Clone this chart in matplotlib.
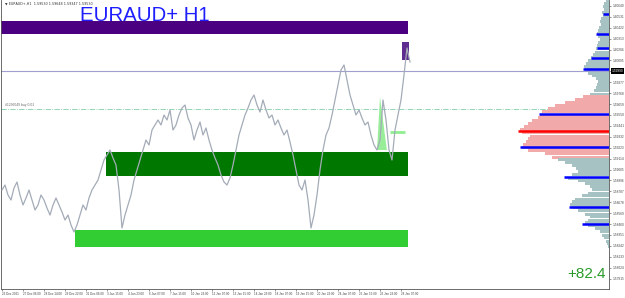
import numpy as np
import matplotlib
matplotlib.use("Agg")
import matplotlib.pyplot as plt
import matplotlib.transforms as mtransforms

plt.rcParams['font.family'] = ['Liberation Sans', 'DejaVu Sans']

# hourly closes (sampled), EURAUD+ H1
prices = [
    1.5880, 1.5885, 1.5875, 1.5870, 1.5882, 1.5888, 1.5875, 1.5865, 1.5872, 1.5880,
    1.5870, 1.5860, 1.5865, 1.5875, 1.5870, 1.5862, 1.5855, 1.5865, 1.5872, 1.5865,
    1.5858, 1.5850, 1.5855, 1.5845, 1.5838,
    1.5845, 1.5855, 1.5865, 1.5860, 1.5872, 1.5880, 1.5885, 1.5890, 1.5900, 1.5910,
    1.5915, 1.5920,
    1.5912, 1.5905, 1.5880, 1.5842, 1.5855, 1.5865, 1.5875,
    1.5890, 1.5900, 1.5910, 1.5920, 1.5930, 1.5925, 1.5940, 1.5945, 1.5950,
    1.5945, 1.5955, 1.5950, 1.5960, 1.5940, 1.5945, 1.5955, 1.5962, 1.5965, 1.5952,
    1.5945, 1.5930, 1.5940, 1.5948, 1.5935, 1.5942, 1.5930, 1.5920,
    1.5912, 1.5905, 1.5895, 1.5888, 1.5885, 1.5892, 1.5905, 1.5920,
    1.5935, 1.5945, 1.5955, 1.5962, 1.5970, 1.5975, 1.5965, 1.5958, 1.5970, 1.5960,
    1.5952, 1.5955, 1.5945, 1.5950, 1.5942, 1.5935, 1.5940, 1.5928,
    1.5915, 1.5900, 1.5885, 1.5880, 1.5890, 1.5870, 1.5842, 1.5855,
    1.5875, 1.5900, 1.5920, 1.5935, 1.5942, 1.5955, 1.5970, 1.5985, 1.6000, 1.6005,
    1.5990, 1.5975, 1.5965, 1.5955, 1.5960, 1.5952, 1.5945, 1.5948, 1.5935, 1.5925,
    1.5920, 1.5930,
    1.5970, 1.5950, 1.5920, 1.5910, 1.5940, 1.5955, 1.5970, 1.5995, 1.6022, 1.6008,
]

time_labels = ["23 Dec 2021", "27 Dec 06:00", "28 Dec 14:00", "29 Dec 22:00", "31 Dec 06:00",
               "3 Jan 15:00", "4 Jan 23:00", "6 Jan 07:00", "7 Jan 15:00", "10 Jan 23:00",
               "12 Jan 07:00", "13 Jan 15:00", "14 Jan 23:00", "18 Jan 07:00", "19 Jan 15:00",
               "20 Jan 23:00", "24 Jan 07:00", "25 Jan 15:00", "26 Jan 23:00", "28 Jan 07:00"]

# supply / demand zones: (start bar, end bar, top, bottom, colour)
zones = [
    (-1.0, 135.3, 1.6049, 1.6036, '#4b0082'),
    (133.3, 135.7, 1.6028, 1.6010, '#5e2b8e'),
    (34.7, 135.3, 1.5918, 1.5894, '#007800'),
    (24.3, 135.3, 1.5840, 1.5823, '#32cd32'),
]

bid_price = 1.5999
order_price = 1.5961
target_price = 1.5938

# volume profile (top of chart downwards, 0.0003 per bin)
profile_top = 1.6069
profile_vol = [3, 5, 6, 5, 7, 6, 8, 9, 8, 10, 11, 12, 11, 9, 11, 12, 13, 14, 16, 18,
               21, 23, 25, 24, 21, 17, 13, 11, 12, 13, 15, 19, 26, 34, 44, 54, 61, 67, 69, 71,
               77, 81, 85, 89, 87, 79, 81, 83, 86, 87, 81, 64, 57, 51, 44, 37, 33, 31, 37, 41,
               31, 24, 19, 17, 21, 27, 34, 37, 39, 37, 31, 24, 19, 21, 24, 21, 14, 9, 7, 5,
               3, 2, 1]
value_area = (1.5913, 1.5973)
blue_levels = [1.6056, 1.6036, 1.6022, 1.6012, 1.6001, 1.5956, 1.5923, 1.5893, 1.5863, 1.5846]
blue_len = [6, 13, 12, 18, 26, 70, 89, 45, 40, 27]
poc_level = 1.5939
poc_len = 91

W, H = 625, 298
fig = plt.figure(figsize=(W / 100, H / 100), dpi=100)
ax = fig.add_axes([1 / W, 1 - 289 / H, 608 / W, 289 / H])
ax.set_xlim(-1 / 3, 607 / 3)
ax.set_ylim(1.5781, 1.6070)

x = np.arange(len(prices))

for x0, x1, top, bot, col in zones:
    ax.fill_between([x0, x1], bot, top, color=col, lw=0, zorder=1)

# pending trade shading
ax.fill([126.0, 125.0, 128.3], [1.5973, 1.5920, 1.5920], color='#98ee98', lw=0, zorder=1)
ax.hlines(target_price, 129.3, 134.3, color='#90ee90', lw=2, zorder=1)

ax.axhline(bid_price, color='#a0a0d0', lw=0.8, zorder=0.5)
ax.axhline(order_price, color='#7fd0a8', lw=0.6, ls='-.', zorder=0.5)
ax.text(1, order_price + 0.0002, "#1236049 buy 0.01", fontsize=2.4, color='#666666', va='bottom')

ax.plot(x, prices, color='#a4acb8', lw=0.9, zorder=3)

# axes look
ax.spines['top'].set_visible(False)
for s in ['left', 'right', 'bottom']:
    ax.spines[s].set_color('#555555')
    ax.spines[s].set_linewidth(0.6)

yt = np.arange(1.6064, 1.5782, -0.00109)
ax.yaxis.tick_right()
ax.set_yticks(yt)
ax.set_yticklabels([f"{v:.5f}" for v in yt])
ax.tick_params(axis='y', labelsize=2.3, colors='#444444', length=1.5, width=0.4, pad=0.8)

xt = np.arange(len(time_labels)) * 7
ax.set_xticks(xt)
ax.set_xticklabels(time_labels, ha='left')
ax.tick_params(axis='x', labelsize=2.2, colors='#444444', length=1.5, width=0.4, pad=1)

# current price box
trans = mtransforms.blended_transform_factory(ax.transAxes, ax.transData)
ax.text(1.004, bid_price, f"{bid_price:.5f}", transform=trans, fontsize=2.3, color='white',
        va='center', ha='left', bbox=dict(boxstyle='square,pad=0.25', fc='black', ec='none'))

# volume profile on a twin axes, growing leftwards from the right edge
ax2 = ax.twiny()
ax2.set_xlim(608, 0)
levels = profile_top - 0.0003 * np.arange(len(profile_vol))
cols = ['#f2a9a9' if value_area[0] <= v <= value_area[1] else '#a6c2c2' for v in levels]
ax2.barh(levels, profile_vol, height=0.0003, color=cols, lw=0, zorder=2)
ax2.hlines(blue_levels, 0, blue_len, color='#0000ff', lw=1.8, zorder=4)
ax2.hlines(poc_level, 0, poc_len, color='#ff0000', lw=1.8, zorder=4)
ax2.set_xticks([])
for s in ax2.spines.values():
    s.set_visible(False)

# labels
fig.text(5 / W, 1 - 4 / H, "\u25bc EURAUD+,H1  1.59530 1.59648 1.59347 1.59530",
         fontsize=2.4, color='#333333', va='center', family=['DejaVu Sans'])
fig.text(80 / W, 1 - 21 / H, "EURAUD+ H1", fontsize=14.7, color='#1e1eff', va='baseline')
fig.text(606 / W, 1 - 278 / H, "+82.4", fontsize=11, color='#2a9a2a', ha='right', va='baseline')

fig.savefig("out.png", dpi=100)
